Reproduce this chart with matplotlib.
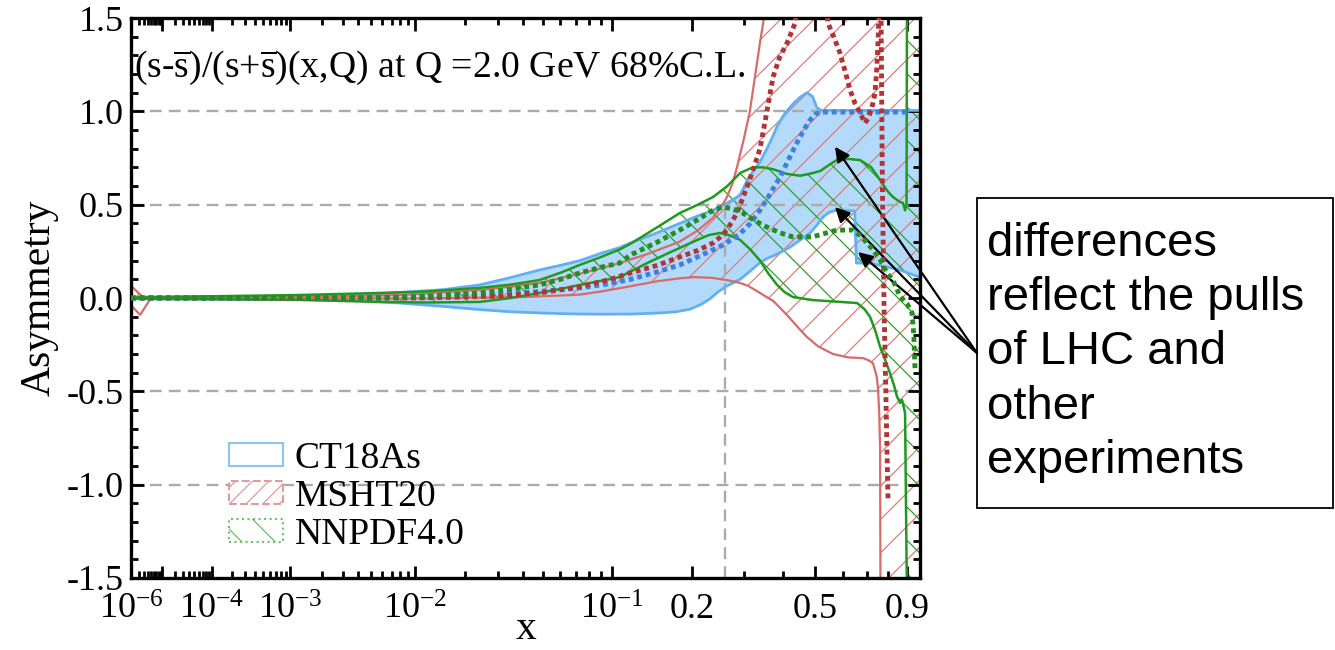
import numpy as np
import matplotlib
matplotlib.use('Agg')
import matplotlib.pyplot as plt
import matplotlib.patches as mpatches

plt.rcParams['font.family'] = ['Liberation Serif', 'DejaVu Serif']
plt.rcParams['mathtext.fontset'] = 'custom'
plt.rcParams['mathtext.rm'] = 'Liberation Serif'
plt.rcParams['mathtext.it'] = 'Liberation Serif:italic'
plt.rcParams['axes.unicode_minus'] = False
plt.rcParams['hatch.linewidth'] = 0.9

# CT18As band and central value
ct_up_x = [1e-6, 1.2e-3, 4e-3, 8e-3, 1.5e-2, 2.4e-2, 3.5e-2, 4.8e-2, 6e-2, 7.3e-2, 0.09, 0.107,
           0.118, 0.15, 0.181, 0.21, 0.237, 0.265, 0.292, 0.3075, 0.322, 0.3385, 0.356, 0.37,
           0.383, 0.405, 0.4285, 0.45, 0.472, 0.49, 0.505, 0.52, 0.97]
ct_up_y = [0.005, 0.008, 0.015, 0.03, 0.045, 0.07, 0.11, 0.15, 0.175, 0.20, 0.24, 0.27,
           0.295, 0.35, 0.40, 0.44, 0.47, 0.51, 0.55, 0.63, 0.68, 0.73, 0.80, 0.86,
           0.92, 0.99, 1.04, 1.075, 1.10, 1.08, 1.02, 1.005, 1.005]
ct_lo_x = [1e-6, 1.2e-3, 4e-3, 8e-3, 1.5e-2, 2.4e-2, 3.5e-2, 4.8e-2, 6.5e-2, 8.9e-2, 0.12, 0.153,
           0.175, 0.197, 0.215, 0.231, 0.245, 0.262, 0.292, 0.315, 0.3385, 0.36, 0.383, 0.42,
           0.45, 0.482, 0.505, 0.526, 0.55, 0.5775, 0.61, 0.641, 0.648, 0.655, 0.713, 0.86, 0.97]
ct_lo_y = [-0.005, -0.008, -0.015, -0.027, -0.045, -0.062, -0.074, -0.08, -0.085, -0.087, -0.086, -0.08,
           -0.074, -0.06, -0.035, -0.005, 0.03, 0.062, 0.10, 0.145, 0.19, 0.215, 0.235, 0.273,
           0.31, 0.348, 0.39, 0.434, 0.46, 0.471, 0.47, 0.466, 0.466, 0.187, 0.187, 0.15, 0.11]
ct_mid_x = [1e-6, 3.4e-3, 1e-2, 1.64e-2, 2.5e-2, 3.9e-2, 5.5e-2, 7.3e-2, 0.095, 0.118, 0.15, 0.181,
            0.22, 0.256, 0.275, 0.292, 0.315, 0.3385, 0.365, 0.391, 0.415, 0.44, 0.462, 0.482,
            0.50, 0.52, 0.91]
ct_mid_y = [0, 0, 0.005, 0.011, 0.018, 0.027, 0.04, 0.054, 0.075, 0.10, 0.14, 0.177,
            0.235, 0.284, 0.315, 0.345, 0.40, 0.471, 0.56, 0.648, 0.74, 0.83, 0.90, 0.953,
            0.985, 0.996, 0.996]

# MSHT20 band and central value
ms_up_x = [1e-6, 2.8e-6, 1.2e-3, 8e-3, 2.4e-2, 4.8e-2, 7.3e-2, 0.09, 0.107, 0.137, 0.18, 0.209,
           0.237, 0.25, 0.262, 0.275, 0.285, 0.30, 0.314, 0.3385, 0.36, 0.97]
ms_up_y = [0.065, 0.003, 0.005, 0.016, 0.043, 0.08, 0.13, 0.16, 0.187, 0.235, 0.30, 0.36,
           0.43, 0.48, 0.53, 0.61, 0.70, 0.85, 1.0, 1.37, 1.65, 1.65]
ms_lo_x = [1e-6, 2.2e-6, 4.9e-6, 1e-2, 4e-2, 7.3e-2, 0.09, 0.115, 0.15, 0.18, 0.204, 0.235,
           0.264, 0.29, 0.31, 0.3385, 0.355, 0.372, 0.395, 0.42, 0.445, 0.472, 0.51, 0.5625,
           0.62, 0.684, 0.71, 0.728, 0.745, 0.751, 0.757, 0.761, 0.763, 0.97]
ms_lo_y = [-0.04, -0.09, 0.0, -0.003, 0.005, 0.018, 0.035, 0.06, 0.09, 0.105, 0.112, 0.108,
           0.096, 0.082, 0.065, 0.027, 0.005, -0.015, -0.06, -0.11, -0.16, -0.209, -0.26, -0.30,
           -0.318, -0.322, -0.335, -0.35, -0.42, -0.48, -0.62, -0.80, -1.65, -1.65]
ms_mid_x = [1e-6, 1e-2, 3.1e-2, 5e-2, 7.3e-2, 0.095, 0.118, 0.15, 0.181, 0.21, 0.237, 0.25,
            0.264, 0.285, 0.3075, 0.322, 0.3385, 0.355, 0.372, 0.39, 0.411, 0.435, 0.445, 0.535,
            0.544, 0.565, 0.589, 0.61, 0.629, 0.65, 0.671, 0.692, 0.705, 0.715, 0.727, 0.737,
            0.745, 0.751, 0.758, 0.765, 0.772, 0.78, 0.7993]
ms_mid_y = [0, 0, 0.01, 0.03, 0.06, 0.095, 0.134, 0.175, 0.22, 0.255, 0.295, 0.325,
            0.364, 0.455, 0.595, 0.69, 0.80, 0.99, 1.184, 1.29, 1.366, 1.473, 1.65, 1.65,
            1.473, 1.40, 1.312, 1.21, 1.114, 1.04, 0.991, 0.937, 0.96, 0.991, 1.04, 1.098,
            1.22, 1.366, 1.6, 1.6, 0.6, -0.05, -1.08]

# NNPDF4.0 band and central value
nn_up_x = [1e-6, 1.2e-3, 5.8e-3, 1.2e-2, 2.4e-2, 3.5e-2, 4.8e-2, 6e-2, 7.3e-2, 0.09, 0.107, 0.118,
           0.15, 0.181, 0.21, 0.237, 0.265, 0.292, 0.321, 0.345, 0.372, 0.41, 0.45, 0.48,
           0.516, 0.55, 0.578, 0.62, 0.671, 0.72, 0.761, 0.795, 0.824, 0.861, 0.876, 0.887,
           0.895, 0.8975, 0.97]
nn_up_y = [0.003, 0.016, 0.027, 0.035, 0.054, 0.072, 0.096, 0.135, 0.177, 0.22, 0.26, 0.29,
           0.38, 0.455, 0.50, 0.541, 0.60, 0.67, 0.70, 0.70, 0.69, 0.665, 0.655, 0.665,
           0.68, 0.715, 0.74, 0.745, 0.739, 0.70, 0.632, 0.575, 0.541, 0.514, 0.509, 0.47,
           0.50, 1.65, 1.65]
nn_lo_x = [1e-6, 1.2e-3, 5.8e-3, 1.2e-2, 2.4e-2, 3.5e-2, 4.8e-2, 6e-2, 7.3e-2, 0.09, 0.107, 0.137,
           0.17, 0.209, 0.23, 0.25, 0.27, 0.292, 0.315, 0.3385, 0.36, 0.383, 0.405, 0.4285,
           0.49, 0.58, 0.658, 0.69, 0.715, 0.74, 0.761, 0.785, 0.809, 0.83, 0.845, 0.861,
           0.871, 0.887, 0.8975, 0.97]
nn_lo_y = [-0.003, -0.01, -0.021, -0.024, -0.021, 0.0, 0.027, 0.048, 0.07, 0.092, 0.112, 0.187,
           0.25, 0.311, 0.338, 0.348, 0.335, 0.311, 0.26, 0.20, 0.13, 0.07, 0.03, 0.005,
           -0.011, -0.02, -0.027, -0.06, -0.102, -0.18, -0.262, -0.33, -0.402, -0.47, -0.53, -0.562,
           -0.546, -0.616, -1.65, -1.65]
nn_mid_x = [1e-6, 5.8e-3, 1.2e-2, 2.4e-2, 3.5e-2, 4.8e-2, 6e-2, 7.3e-2, 0.09, 0.107, 0.118, 0.15,
            0.181, 0.21, 0.237, 0.256, 0.275, 0.298, 0.325, 0.356, 0.39, 0.4285, 0.489, 0.53,
            0.578, 0.641, 0.67, 0.701, 0.73, 0.761, 0.794, 0.824, 0.86, 0.8975, 0.925, 0.935,
            0.942]
nn_mid_y = [0, 0.0, 0.01, 0.027, 0.047, 0.07, 0.10, 0.134, 0.165, 0.187, 0.23, 0.30,
            0.364, 0.42, 0.471, 0.487, 0.478, 0.455, 0.415, 0.38, 0.35, 0.327, 0.327, 0.345,
            0.364, 0.364, 0.335, 0.295, 0.255, 0.204, 0.134, 0.096, 0.01, -0.03, -0.08, -0.2,
            -0.39]

x_major = [1e-6, 1e-5, 1e-4, 1e-3, 1e-2, 1e-1, 0.2, 0.5, 0.9]
x_major_labels = [r'$\mathregular{10^{-6}}$', '', r'$\mathregular{10^{-4}}$', r'$\mathregular{10^{-3}}$',
                  r'$\mathregular{10^{-2}}$', r'$\mathregular{10^{-1}}$', '0.2', '0.5', '0.9']
x_minor = [k * 10.0 ** e for e in range(-6, -1) for k in range(2, 10)] + [0.3, 0.4, 0.6, 0.7, 0.8]
grid_y = [1.0, 0.5, -0.5, -1.0]
grid_x = 0.26
arrow_targets = [(0.570, 0.81), (0.570, 0.487), (0.662, 0.246)]


def fwd(x):
    return np.power(np.clip(x, 1e-12, None), 0.2)


def inv(u):
    return np.power(np.clip(u, 0, None), 5)


fig = plt.figure(figsize=(13.35, 6.5), dpi=100)
ax = fig.add_axes([131 / 1335, 72 / 650, 789 / 1335, 560 / 650])
ax.set_xscale('function', functions=(fwd, inv))
ax.set_xlim(1e-6, 0.97)
ax.set_ylim(-1.5, 1.5)

# bands
ax.fill(np.concatenate([ct_up_x, ct_lo_x[::-1]]), np.concatenate([ct_up_y, ct_lo_y[::-1]]),
        facecolor='#b3dafa', edgecolor='none', zorder=1)
ax.fill(np.concatenate([ms_up_x, ms_lo_x[::-1]]), np.concatenate([ms_up_y, ms_lo_y[::-1]]),
        facecolor='none', edgecolor='#de7c7c', linewidth=0, hatch='/', zorder=1.2)
ax.fill(np.concatenate([nn_up_x, nn_lo_x[::-1]]), np.concatenate([nn_up_y, nn_lo_y[::-1]]),
        facecolor='none', edgecolor='#2ca02c', linewidth=0, hatch='\\', zorder=1.3)

# reference lines
for gy in grid_y:
    ax.axhline(gy, color='#ababab', lw=1.7, ls=(0, (5, 3)), zorder=1.5)
ax.plot([grid_x, grid_x], [-1.5, 0.5], color='#ababab', lw=1.7, ls=(0, (5, 3)), zorder=1.5)

# band edges
ax.plot(ct_up_x, ct_up_y, color='#62b0f4', lw=2, zorder=2)
ax.plot(ct_lo_x, ct_lo_y, color='#62b0f4', lw=2, zorder=2)
ax.plot(ms_up_x, ms_up_y, color='#d96a6a', lw=1.6, zorder=2.1)
ax.plot(ms_lo_x, ms_lo_y, color='#d96a6a', lw=1.6, zorder=2.1)
ax.plot(nn_up_x, nn_up_y, color='#1f9a1f', lw=1.8, zorder=2.2)
ax.plot(nn_lo_x, nn_lo_y, color='#1f9a1f', lw=1.8, zorder=2.2)

# central values
dots = (0, (1, 0.8))
ax.plot(ct_mid_x, ct_mid_y, color='#3f7fe0', lw=3.5, ls=dots, zorder=3)
ax.plot(ms_mid_x, ms_mid_y, color='#b23535', lw=3.5, ls=dots, zorder=3.1)
ax.plot(nn_mid_x, nn_mid_y, color='#1f8f1f', lw=3.5, ls=dots, zorder=3.2)

# axes styling
ax.set_xticks(x_major)
ax.set_xticklabels(x_major_labels)
ax.set_xticks(x_minor, minor=True)
ax.set_yticks(np.arange(-1.5, 1.51, 0.5))
ax.set_yticklabels(['%.1f' % v for v in np.arange(-1.5, 1.51, 0.5)])
ax.set_yticks(np.arange(-1.5, 1.51, 0.1), minor=True)
ax.tick_params(which='both', direction='in', top=True, right=True, width=2, labelsize=26)
ax.tick_params(axis='y', pad=5)
ax.tick_params(axis='x', pad=11)
ax.tick_params(which='major', length=9)
ax.tick_params(which='minor', length=5)
for s in ax.spines.values():
    s.set_linewidth(2.4)
ax.set_xlabel('x', fontsize=30, labelpad=-12)
ax.set_ylabel('Asymmetry', fontsize=30, labelpad=6)

ax.text(0.004, 0.895, r'(s-$\mathregular{\overline{s}}$)/(s+$\mathregular{\overline{s}}$)(x,Q) at Q =2.0 GeV 68%C.L.',
        transform=ax.transAxes, fontsize=27.2, va='baseline', zorder=4)

handles = [
    mpatches.Patch(facecolor='white', edgecolor='#8cc4f2', linewidth=1.5),
    mpatches.Patch(facecolor='white', edgecolor='#e39a9a', linestyle='--', hatch='//', linewidth=1.5),
    mpatches.Patch(facecolor='white', edgecolor='#66c466', linestyle=':', hatch='\\', linewidth=1.5),
]
fig.legend(handles, ['CT18As', 'MSHT20', 'NNPDF4.0'], loc='upper left',
           bbox_to_anchor=(229 / 1335, 1 - 441 / 650), frameon=False, fontsize=27,
           handlelength=1.45, handleheight=0.55, handletextpad=0.3, labelspacing=0.1,
           borderpad=0, borderaxespad=0)

# annotation box with arrows
for tx, ty in arrow_targets:
    ax.annotate('', xy=(tx, ty), xycoords='data', xytext=(977 / 1335, 1 - 353 / 650),
                textcoords='figure fraction', annotation_clip=False,
                arrowprops=dict(arrowstyle='-|>', color='black', lw=1.6, mutation_scale=22,
                                shrinkA=0, shrinkB=0))
fig.patches.append(mpatches.Rectangle((977 / 1335, 1 - 508 / 650), 356 / 1335, 310 / 650,
                                      transform=fig.transFigure, fill=False, edgecolor='black', lw=1.3))
fig.text(987 / 1335, 1 - 222 / 650, 'differences\nreflect the pulls\nof LHC and\nother\nexperiments',
         fontsize=34, family=['Liberation Sans', 'DejaVu Sans'], va='top', ha='left', linespacing=1.3)

fig.savefig('out.png', dpi=100)
